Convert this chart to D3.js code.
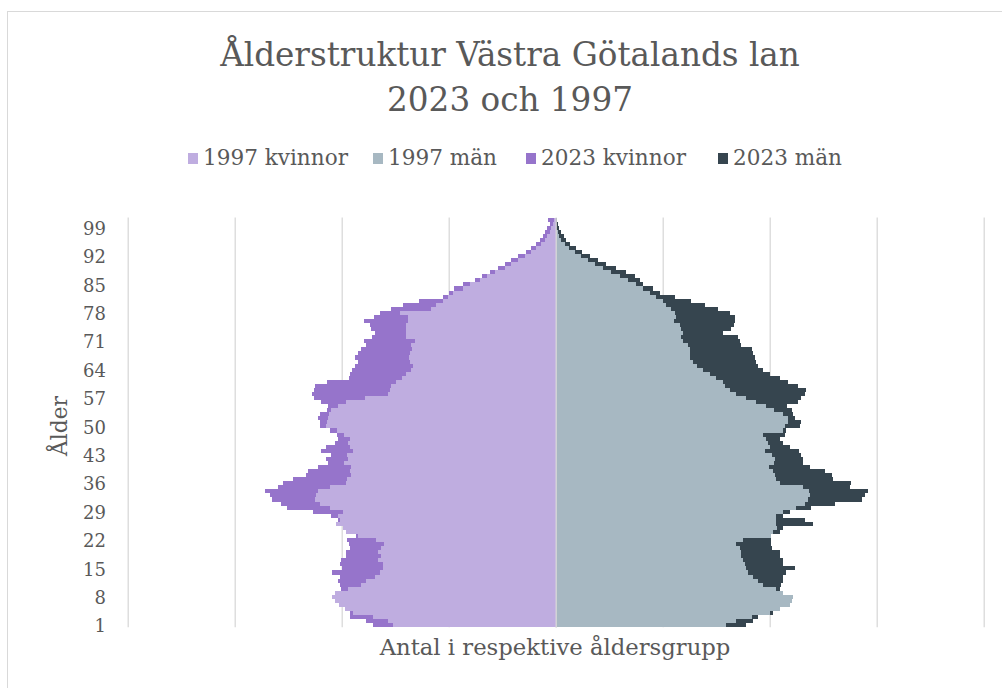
<!DOCTYPE html>
<html>
<head>
<meta charset="utf-8">
<script src="https://cdn.jsdelivr.net/npm/d3@7"></script>
<style>
  body { margin: 0; background: #fff; }
  svg { display: block; }
  text { font-family: Georgia, 'DejaVu Serif', serif; fill: #595959; }
</style>
</head>
<body>
<svg id="chart" width="1002" height="688"></svg>
<script>
// ages 1..101 (bottom to top)
const AGES = d3.range(1, 102).map(String);
const TICK_LABELS = ['1', '8', '15', '22', '29', '36', '43', '50', '57', '64', '71', '78', '85', '92', '99'];
const GRID_VALUES = [-20000, -15000, -10000, -5000, 0, 5000, 10000, 15000, 20000];

// persons per age, listed from age 1 upwards
const KVINNOR_1997 = [
  7600, 7840, 8540, 9470, 9860, 10130, 10330, 10440, 10330, 9710,
  9080, 8850, 8460, 8230, 8070, 8070, 8300, 8150, 8300, 8150,
  8040, 8380, 9240, 9780, 9940, 10280, 10100, 10170, 9940, 10560,
  11000, 11260, 11190, 11110, 10560, 9780, 9750, 9550, 9630, 9550,
  9910, 9710, 9750, 9470, 9630, 9710, 9630, 9910, 10220, 10720,
  10690, 10640, 10610, 10490, 10170, 9780, 8930, 7840, 7760, 7680,
  7450, 7170, 6980, 6750, 6670, 6820, 6860, 6820, 6710, 6750,
  6560, 6980, 7010, 6980, 6980, 6900, 6900, 7290, 5810, 5580,
  5270, 5030, 4800, 4330, 4020, 3550, 3210, 2850, 2380, 2070,
  1760, 1450, 1140, 900, 670, 510, 390, 280, 200, 120,
  90
];
const MAN_1997 = [
  7980, 8440, 9150, 10000, 10470, 10940, 11060, 11090, 10630, 10310,
  9690, 9460, 9220, 8990, 8910, 8830, 8760, 8680, 8680, 8630,
  8440, 8760, 10080, 10160, 10350, 10310, 10280, 10310, 10630, 11250,
  11640, 11790, 11870, 11840, 11560, 10470, 10310, 10240, 10160, 9970,
  10190, 10240, 10130, 9770, 10000, 9920, 9820, 9690, 10630, 10700,
  10860, 10860, 10630, 10190, 9850, 9380, 8910, 8440, 8130, 7900,
  7820, 7510, 7200, 6890, 6580, 6420, 6260, 6260, 6260, 6190,
  5950, 5870, 5950, 5870, 5800, 5520, 5640, 5560, 5410, 5170,
  5020, 4710, 4390, 4080, 3770, 3380, 2990, 2600, 2210, 1820,
  1510, 1200, 890, 620, 420, 260, 160, 90, 30, 20,
  20
];
const KVINNOR_2023 = [
  8540, 8880, 9630, 9630, 9550, 9630, 9710, 9780, 9860, 10020,
  10100, 10170, 10100, 10440, 9970, 10100, 10020, 9780, 9820, 9630,
  9660, 9750, 9320, 9550, 9630, 9780, 10170, 10490, 11340, 12560,
  12820, 13240, 13340, 13600, 12980, 12740, 12280, 11650, 11580, 11110,
  10640, 10750, 10520, 10950, 10720, 10330, 10170, 10220, 10560, 11000,
  11030, 11110, 11030, 10670, 10640, 10950, 11300, 11370, 11310, 11260,
  10690, 9680, 9630, 9500, 9390, 9240, 9390, 9240, 9080, 8850,
  8960, 8580, 8460, 8620, 8690, 8960, 8490, 8230, 7680, 7140,
  6390, 5270, 5000, 4750, 4330, 3750, 3440, 3080, 2700, 2380,
  2070, 1760, 1400, 1170, 930, 750, 590, 480, 390, 280,
  360
];
const MAN_2023 = [
  8910, 9220, 9460, 10160, 10240, 10310, 10470, 10470, 10310, 10470,
  10550, 10630, 10630, 10780, 11170, 10630, 10630, 10470, 10470, 10130,
  10080, 10080, 9690, 10470, 10630, 12030, 11640, 10630, 10940, 11950,
  13040, 14290, 14440, 14600, 13740, 13820, 12960, 12930, 12570, 11870,
  11560, 11560, 11480, 11370, 10940, 10630, 10470, 10700, 10780, 11400,
  11480, 11170, 11090, 11020, 10810, 11330, 11440, 11640, 11690, 11330,
  10860, 10470, 10000, 9690, 9460, 9380, 9300, 9220, 9150, 8680,
  8600, 8520, 7820, 8210, 8320, 8370, 8370, 8130, 7590, 6960,
  6340, 5560, 4860, 4550, 4080, 3930, 3690, 3270, 2800, 2370,
  1980, 1590, 1250, 930, 690, 500, 370, 260, 160, 110,
  60
];

const SERIES = [
  { name: '1997 kvinnor', values: KVINNOR_1997, side: -1, color: '#bfade0' },
  { name: '1997 män', values: MAN_1997, side: 1, color: '#a7b8c2' },
  { name: '2023 kvinnor', values: KVINNOR_2023, side: -1, color: '#9674cb' },
  { name: '2023 män', values: MAN_2023, side: 1, color: '#36454f' }
];
// 2023 behind, 1997 in front
const DRAW_ORDER = [2, 3, 0, 1];

const LEFT = 127.7, RIGHT = 983.7, TOP = 217.5, BOTTOM = 627.3;
const GRID_COLOR = '#d9d9d9';

const svg = d3.select('#chart');

// chart border
svg.append('rect')
  .attr('x', 7.5).attr('y', 11.5)
  .attr('width', 1010).attr('height', 700)
  .attr('fill', '#fff')
  .attr('stroke', GRID_COLOR);

function fitWidth(sel, target) {
  const w = sel.node().getComputedTextLength();
  const fs = parseFloat(sel.attr('font-size'));
  const size = fs * target / w;
  sel.attr('font-size', size);
  return size;
}

// Title
const t1 = svg.append('text')
  .attr('x', 510).attr('y', 66)
  .attr('text-anchor', 'middle')
  .attr('font-size', 30)
  .text('Ålderstruktur Västra Götalands lan');
const titleSize = fitWidth(t1, 580);
svg.append('text')
  .attr('x', 510).attr('y', 111)
  .attr('text-anchor', 'middle')
  .attr('font-size', titleSize)
  .text('2023 och 1997');

// Scales
const x = d3.scaleLinear().domain([-20000, 20000]).range([LEFT, RIGHT]);
const y = d3.scaleBand().domain(AGES).range([BOTTOM, TOP]).padding(0);

// Gridlines
const grid = svg.append('g')
  .attr('transform', 'translate(0,' + BOTTOM + ')')
  .call(d3.axisBottom(x).tickValues(GRID_VALUES).tickSize(-(BOTTOM - TOP)).tickFormat(''));
grid.select('.domain').remove();
grid.selectAll('line').attr('stroke', GRID_COLOR).attr('stroke-width', 1.3);

// Bars
DRAW_ORDER.forEach((si) => {
  const s = SERIES[si];
  svg.append('g')
    .attr('shape-rendering', 'crispEdges')
    .selectAll('rect')
    .data(s.values)
    .enter()
    .append('rect')
    .attr('x', d => s.side < 0 ? x(-d) : x(0))
    .attr('width', d => Math.abs(x(s.side * d) - x(0)))
    .attr('y', (d, i) => y(AGES[i]))
    .attr('height', y.bandwidth())
    .attr('fill', s.color);
});

// Vertical category axis line at zero
const axisLine = svg.append('g')
  .attr('transform', 'translate(' + x(0) + ',0)')
  .call(d3.axisLeft(y).tickValues([]).tickSizeOuter(0));
axisLine.select('.domain').attr('stroke', GRID_COLOR).attr('stroke-width', 1.3);

// Age labels
const yAxis = svg.append('g')
  .attr('transform', 'translate(' + LEFT + ',0)')
  .call(d3.axisLeft(y).tickValues(TICK_LABELS).tickSize(0).tickPadding(LEFT - 106));
yAxis.select('.domain').remove();
yAxis.selectAll('text')
  .attr('font-family', null)
  .attr('font-size', 18)
  .attr('dy', '0.4em')
  .style('fill', '#595959');

// Axis titles
const xt = svg.append('text')
  .attr('x', 555).attr('y', 655)
  .attr('text-anchor', 'middle')
  .attr('font-size', 20)
  .text('Antal i respektive åldersgrupp');
fitWidth(xt, 351);

const yt = svg.append('text')
  .attr('transform', 'translate(67,426) rotate(-90)')
  .attr('text-anchor', 'middle')
  .attr('font-size', 20)
  .text('Ålder');
fitWidth(yt, 60);

// Legend
const LEGEND_X = [188, 373, 526, 718];
const legend = svg.append('g');
const legendItems = legend.selectAll('g')
  .data(SERIES)
  .enter()
  .append('g')
  .attr('transform', (d, i) => 'translate(' + LEGEND_X[i] + ',0)');
legendItems.append('rect')
  .attr('x', 0).attr('y', 153)
  .attr('width', 10).attr('height', 11)
  .attr('fill', d => d.color);
const legendTexts = legendItems.append('text')
  .attr('x', 15).attr('y', 165)
  .attr('font-size', 18)
  .text(d => d.name);
const probe = legendTexts.filter((d, i) => i === 2);
const legendSize = fitWidth(probe, 145);
legendTexts.attr('font-size', legendSize);
</script>
</body>
</html>
